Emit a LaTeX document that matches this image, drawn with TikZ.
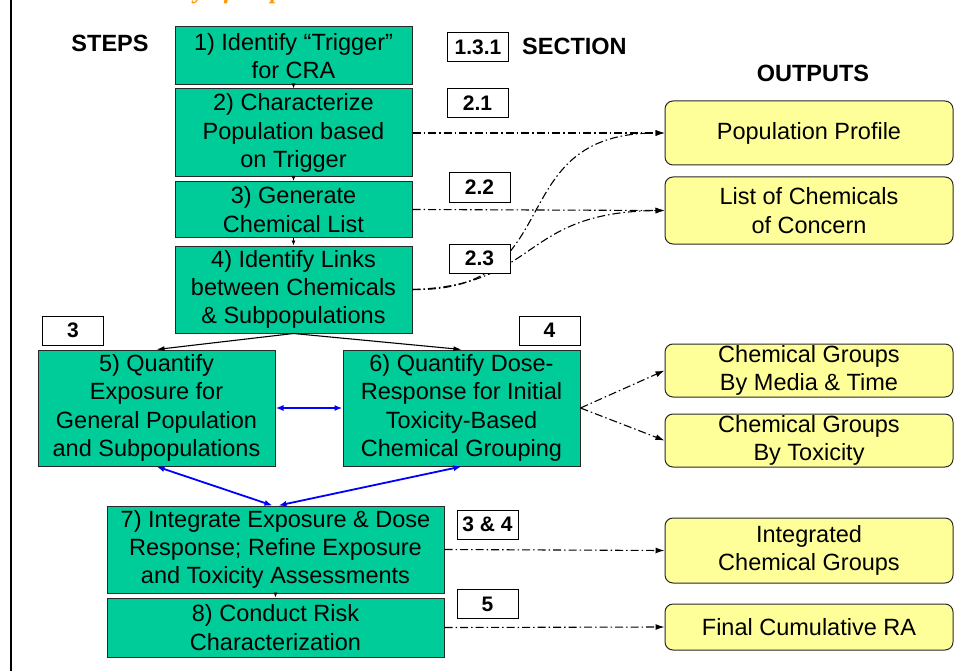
\documentclass[tikz,border=0pt]{standalone}
\usepackage{fontspec}
\setmainfont{Liberation Sans}
\newfontfamily\titleFont{Liberation Serif}
\usetikzlibrary{positioning,arrows.meta}
\tikzstyle{chart} = [x = 1pt, y = -1pt]
\definecolor{stepColor}{RGB}{0,204,153}
\definecolor{outputColor}{RGB}{255,255,153}
\definecolor{titleColor}{RGB}{255,153,0}
\definecolor{edgeColor}{RGB}{40,40,40}
\tikzstyle{stepBox} = [draw=edgeColor, fill=stepColor, line width=1pt, minimum width=237, inner sep=0pt, align=center, font=\fontsize{23.5}{28.3}\selectfont]
\tikzstyle{outputBox} = [draw=edgeColor, fill=outputColor, rounded corners=8pt, line width=1pt, minimum width=288, inner sep=0pt, align=center, font=\fontsize{23.5}{28.3}\selectfont]
\tikzstyle{sectionBox} = [draw=black, fill=white, line width=1pt, minimum width=61, minimum height=29, inner sep=0pt, font=\fontsize{21}{24}\selectfont\bfseries]
\tikzstyle{headText} = [inner sep=0pt, font=\fontsize{23.5}{28}\selectfont\bfseries]
\tikzstyle{stepArrow} = [-{Latex[length=5pt, width=4pt]}, line width=0.8pt]
\tikzstyle{splitArrow} = [-{Latex[length=8pt, width=5pt]}, line width=1.1pt]
\tikzstyle{twoWay} = [{Latex[length=8pt, width=6pt]}-{Latex[length=8pt, width=6pt]}, color=blue, line width=1.8pt]
\tikzstyle{linkArrow} = [-{Latex[length=9pt, width=6pt]}, line width=1.1pt, dash pattern=on 8pt off 3pt on 1.5pt off 3pt]
\newcommand{\sectionTag}[3]{\node [sectionBox] (#1) at (#2) {#3};}
\newcommand{\outputLink}[2]{\draw [linkArrow] (#1.east) -- (#2.west);}
\newcommand{\stepLink}[2]{\draw [stepArrow] (#1.south) -- (#2.north);}

\begin{document}
\begin{tikzpicture}[chart]
  \useasboundingbox [fill=white] (0,0) rectangle (960,671);
  \begin{scope}
    \clip (0,0) rectangle (960,671);
    \node [anchor=base west, inner sep=0pt, text=titleColor, font=\titleFont\fontsize{25}{28}\selectfont\bfseries\itshape] (title) at (105,-1) {Summary of Steps};
  \end{scope}
  \draw [line width=2.5pt] (11,0) -- (11,671);

  \node [headText] (steps) at (110,43) {STEPS};
  \node [headText, anchor=west] (section) at (522,46) {SECTION};
  \node [headText] (outputs) at (813,73) {OUTPUTS};

  \node [stepBox, minimum height=58] (s1) at (293.5,56) {1) Identify “Trigger”\\for CRA};
  \node [stepBox, minimum height=88] (s2) at (293.5,133) {2) Characterize\\Population based\\on Trigger};
  \node [stepBox, minimum height=56] (s3) at (293.5,209.5) {3) Generate\\Chemical List};
  \node [stepBox, minimum height=87] (s4) at (293.5,289.5) {4) Identify Links\\between Chemicals\\\& Subpopulations};
  \node [stepBox, minimum height=116] (s5) at (156.5,408) {5) Quantify\\Exposure for\\General Population\\and Subpopulations};
  \node [stepBox, minimum height=116] (s6) at (461.5,408) {6) Quantify Dose-\\Response for Initial\\Toxicity-Based\\Chemical Grouping};
  \node [stepBox, minimum width=337, minimum height=87] (s7) at (275.5,549.5) {7) Integrate Exposure \& Dose\\Response; Refine Exposure\\and Toxicity Assessments};
  \node [stepBox, minimum width=337, minimum height=59] (s8) at (275.5,627.5) {8) Conduct Risk\\Characterization};

  \node [outputBox, minimum height=64] (o1) at (809,133) {Population Profile};
  \node [outputBox, minimum height=67] (o2) at (809,210.5) {List of Chemicals\\of Concern};
  \node [outputBox, minimum height=53] (o3) at (809,370.5) {Chemical Groups\\By Media \& Time};
  \node [outputBox, minimum height=53] (o4) at (809,440.5) {Chemical Groups\\By Toxicity};
  \node [outputBox, minimum height=65] (o5) at (809,550.5) {Integrated\\Chemical Groups};
  \node [outputBox, minimum height=46] (o6) at (809,627) {Final Cumulative RA};

  \stepLink{s1}{s2}
  \stepLink{s2}{s3}
  \stepLink{s3}{s4}
  \stepLink{s7}{s8}
  \draw [splitArrow] (s4.south) -- (s5.north);
  \draw [splitArrow] (s4.south) -- (s6.north);

  \draw [twoWay] (s5.east) -- (s6.west);
  \draw [twoWay] (s5.south) -- ([xshift=-3pt]s7.north);
  \draw [twoWay] (s6.south) -- ([xshift=3pt]s7.north);

  \outputLink{s2}{o1}
  \outputLink{s3}{o2}
  \draw [linkArrow] (s4.east) .. controls +(158,3) and +(-165,0) .. (o1.west);
  \draw [linkArrow] (s4.east) .. controls +(128,-4) and +(-145,1.5) .. (o2.west);
  \outputLink{s6}{o3}
  \outputLink{s6}{o4}
  \outputLink{s7}{o5}
  \outputLink{s8}{o6}

  \sectionTag{sec131}{478,47}{1.3.1}
  \sectionTag{sec21}{477.5,103.5}{2.1}
  \sectionTag{sec22}{479.5,187.5}{2.2}
  \sectionTag{sec23}{479.5,258.5}{2.3}
  \sectionTag{sec3}{73,330.5}{3}
  \sectionTag{sec4}{549.5,330.5}{4}
  \sectionTag{sec34}{487.5,524.5}{3 \& 4}
  \sectionTag{sec5}{487.5,604}{5}
\end{tikzpicture}
\end{document}
